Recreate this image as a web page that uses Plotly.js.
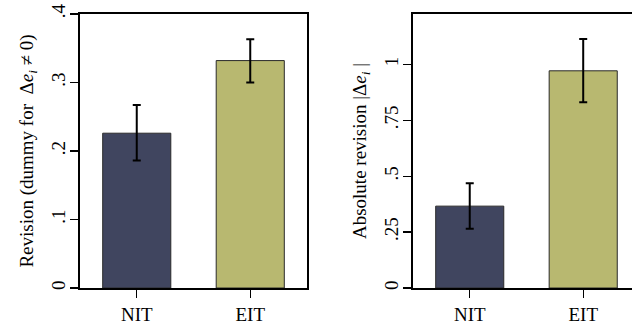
<!DOCTYPE html>
<html>
<head>
<meta charset="utf-8">
<script src="https://cdn.plot.ly/plotly-3.0.1.min.js"></script>
<style>html,body{margin:0;padding:0;background:#fff;}#chart{width:632px;height:326px;}</style>
</head>
<body>
<div id="chart"></div>
<script>
const categories = ["NIT", "EIT"];
const barColors = ["#40455f", "#b8b870"];

// Left panel: share revising (dummy for Δe_i ≠ 0)
const revisionShare = [0.226, 0.332];
const revisionShareUpper = [0.267, 0.363];
const revisionShareLower = [0.186, 0.300];

// Right panel: absolute revision |Δe_i|
const absRevision = [0.366, 0.971];
const absRevisionUpper = [0.468, 1.113];
const absRevisionLower = [0.265, 0.830];

const leftTickVals = [0, 0.1, 0.2, 0.3, 0.4];
const leftTickText = ["0", ".1", ".2", ".3", ".4"];
const rightTickVals = [0, 0.25, 0.5, 0.75, 1];
const rightTickText = ["0", ".25", ".5", ".75", "1"];

function errs(vals, up, lo) {
  return {
    type: "data", symmetric: false,
    array: up.map((u, i) => u - vals[i]),
    arrayminus: vals.map((v, i) => v - lo[i]),
    color: "#000", thickness: 2, width: 4
  };
}

const tickFont = {family: "Liberation Serif", size: 19, color: "#000"};
const titleFont = {family: "Liberation Serif", size: 19, color: "#000"};

const traces = [
  {type: "bar", x: categories, y: revisionShare, xaxis: "x", yaxis: "y", width: 0.6,
   marker: {color: barColors, line: {color: "#2a2a2a", width: 1}},
   error_y: errs(revisionShare, revisionShareUpper, revisionShareLower), hoverinfo: "none"},
  {type: "bar", x: categories, y: absRevision, xaxis: "x2", yaxis: "y2", width: 0.6,
   marker: {color: barColors, line: {color: "#2a2a2a", width: 1}},
   error_y: errs(absRevision, absRevisionUpper, absRevisionLower), hoverinfo: "none"}
];

const common = {showgrid: false, zeroline: false, ticks: "outside", ticklen: 8, tickwidth: 1.2, tickcolor: "#000", linecolor: "#000", linewidth: 2, showline: true, tickfont: tickFont};

const layout = {
  width: 632, height: 326,
  margin: {l: 0, r: 0, t: 14, b: 38},
  paper_bgcolor: "#fff", plot_bgcolor: "#fff",
  showlegend: false, font: tickFont,
  xaxis: Object.assign({}, common, {domain: [80/632, 307/632], range: [-0.5, 1.5], type: "category", mirror: true, anchor: "y"}),
  yaxis: Object.assign({}, common, {domain: [0, 1], range: [0, 0.4], tickvals: leftTickVals, ticktext: leftTickText, tickangle: -90, mirror: true, anchor: "x", ticklabelstandoff: -3,
    title: {text: "Revision (dummy for  Δ<i>e<sub>i</sub></i> ≠ 0)", font: titleFont, standoff: 10}}),
  xaxis2: Object.assign({}, common, {domain: [413/632, 1], range: [-0.5, 1.43], type: "category", mirror: true, anchor: "y2"}),
  yaxis2: Object.assign({}, common, {domain: [0, 1], range: [0, 1.225], tickvals: rightTickVals, ticktext: rightTickText, tickangle: -90, mirror: false, anchor: "x2", ticklabelstandoff: -3,
    title: {text: "Absolute revision |Δ<i>e<sub>i</sub></i> |", font: titleFont, standoff: 10}})
};

Plotly.newPlot("chart", traces, layout, {staticPlot: true, displayModeBar: false});
</script>
</body>
</html>
